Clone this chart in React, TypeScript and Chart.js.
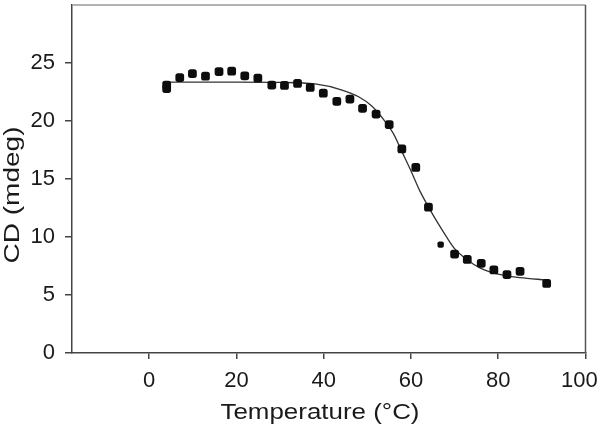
import { useEffect, useRef } from "react";
import { Chart, registerables } from "chart.js";

Chart.register(...registerables);

// Measured CD signal (points)
const measuredTemp = [4, 4, 7, 9.9, 12.9, 16, 18.9, 21.9, 24.9, 28.1, 31, 34, 36.9, 39.9, 43, 46, 48.9, 52, 55, 57.9, 61.1, 64, 66.8, 70, 72.9, 76.1, 79, 82, 85, 91.1];
const measuredCD = [22.8, 23.1, 23.75, 24.1, 23.87, 24.27, 24.3, 23.9, 23.7, 23.1, 23.07, 23.24, 22.9, 22.4, 21.7, 21.9, 21.1, 20.6, 19.7, 17.6, 16.0, 12.57, 9.35, 8.53, 8.07, 7.73, 7.16, 6.76, 7.04, 6.0];

// Fitted curve
const fitTemp = [4, 10, 20, 30, 38, 44, 48, 51, 54, 56, 58, 60, 62, 64, 66, 68, 70, 73, 76, 80, 85, 91];
const fitCD = [23.35, 23.35, 23.35, 23.33, 23.2, 22.7, 22.1, 21.3, 20.0, 18.9, 17.3, 15.7, 14.0, 12.6, 11.3, 10.1, 9.0, 8.0, 7.3, 6.8, 6.5, 6.3];

const xTicks = [0, 20, 40, 60, 80, 100];
const yTicks = [0, 5, 10, 15, 20, 25];

const xTitle = "Temperature (°C)";
const yTitle = "CD (mdeg)";

const FONT = '"Liberation Sans", Arial, sans-serif';

const framePlugin = {
  id: "frameAndTitles",
  afterDraw(chart: any) {
    const { ctx, chartArea } = chart;
    const { left, top, right, bottom } = chartArea;
    ctx.save();
    ctx.lineWidth = 1.5;
    ctx.strokeStyle = "#9a9a9a";
    ctx.beginPath();
    ctx.moveTo(left, top);
    ctx.lineTo(right, top);
    ctx.stroke();
    ctx.strokeStyle = "#555";
    ctx.beginPath();
    ctx.moveTo(right, top);
    ctx.lineTo(right, bottom);
    ctx.stroke();

    ctx.fillStyle = "#1a1a1a";
    ctx.font = `22px ${FONT}`;
    ctx.textAlign = "center";
    ctx.textBaseline = "alphabetic";
    // x title
    let w = ctx.measureText(xTitle).width;
    ctx.save();
    ctx.translate(320, 419);
    ctx.scale(199 / w, 1);
    ctx.fillText(xTitle, 0, 0);
    ctx.restore();
    // y title
    w = ctx.measureText(yTitle).width;
    ctx.save();
    ctx.translate(19, 195);
    ctx.rotate(-Math.PI / 2);
    ctx.scale(137 / w, 1);
    ctx.fillText(yTitle, 0, 0);
    ctx.restore();
    ctx.restore();
  },
};

export default function App() {
  const ref = useRef<HTMLCanvasElement>(null);
  useEffect(() => {
    document.body.style.margin = "0";
    const canvas = ref.current!;
    const chart = new Chart(canvas, {
      type: "scatter",
      data: {
        datasets: [
          {
            label: "fit",
            data: fitTemp.map((x, i) => ({ x, y: fitCD[i] })),
            showLine: true,
            borderColor: "#333",
            borderWidth: 1.3,
            pointRadius: 0,
            cubicInterpolationMode: "monotone",
            order: 2,
          },
          {
            label: "data",
            data: measuredTemp.map((x, i) => ({ x, y: measuredCD[i] })),
            pointStyle: "rectRounded",
            pointRadius: (c: any) => (c.raw && c.raw.x === 66.8 ? 3.7 : 5.1),
            backgroundColor: "#0d0d0d",
            borderColor: "#0d0d0d",
            borderWidth: 0,
            order: 1,
          },
        ],
      },
      options: {
        responsive: false,
        animation: false,
        layout: { padding: { top: 1.5, right: 15.5, left: 0, bottom: 0 } },
        plugins: {
          legend: { display: false },
          tooltip: { enabled: false },
          title: { display: false },
        },
        scales: {
          x: {
            type: "linear",
            min: -17.7,
            max: 100,
            afterBuildTicks: (s: any) => {
              s.ticks = xTicks.map((v) => ({ value: v }));
            },
            afterFit: (s: any) => {
              s.height = 74;
              s.paddingLeft = 0;
              s.paddingRight = 0;
            },
            grid: {
              display: true,
              drawOnChartArea: false,
              drawTicks: true,
              tickLength: 6,
              color: "#444",
              lineWidth: 1.5,
            },
            border: { display: true, color: "#444", width: 1.5 },
            ticks: {
              color: "#1a1a1a",
              font: { size: 22, family: FONT },
              padding: 9,
              maxRotation: 0,
              autoSkip: false,
              callback: (v: any) => (v === 100 ? "100\u00a0\u00a0" : String(v)),
            },
          },
          y: {
            type: "linear",
            min: 0,
            max: 30,
            afterBuildTicks: (s: any) => {
              s.ticks = yTicks.map((v) => ({ value: v }));
            },
            afterFit: (s: any) => {
              s.width = 72;
              s.paddingTop = 0;
              s.paddingBottom = 0;
            },
            grid: {
              display: true,
              drawOnChartArea: false,
              drawTicks: true,
              tickLength: 7,
              color: "#444",
              lineWidth: 1.5,
            },
            border: { display: true, color: "#444", width: 1.5 },
            ticks: {
              color: "#1a1a1a",
              font: { size: 22, family: FONT },
              padding: 10,
              autoSkip: false,
            },
          },
        },
      },
      plugins: [framePlugin],
    });
    return () => chart.destroy();
  }, []);
  return (
    <div style={{ width: 601, height: 427 }}>
      <canvas ref={ref} width={601} height={427} />
    </div>
  );
}
